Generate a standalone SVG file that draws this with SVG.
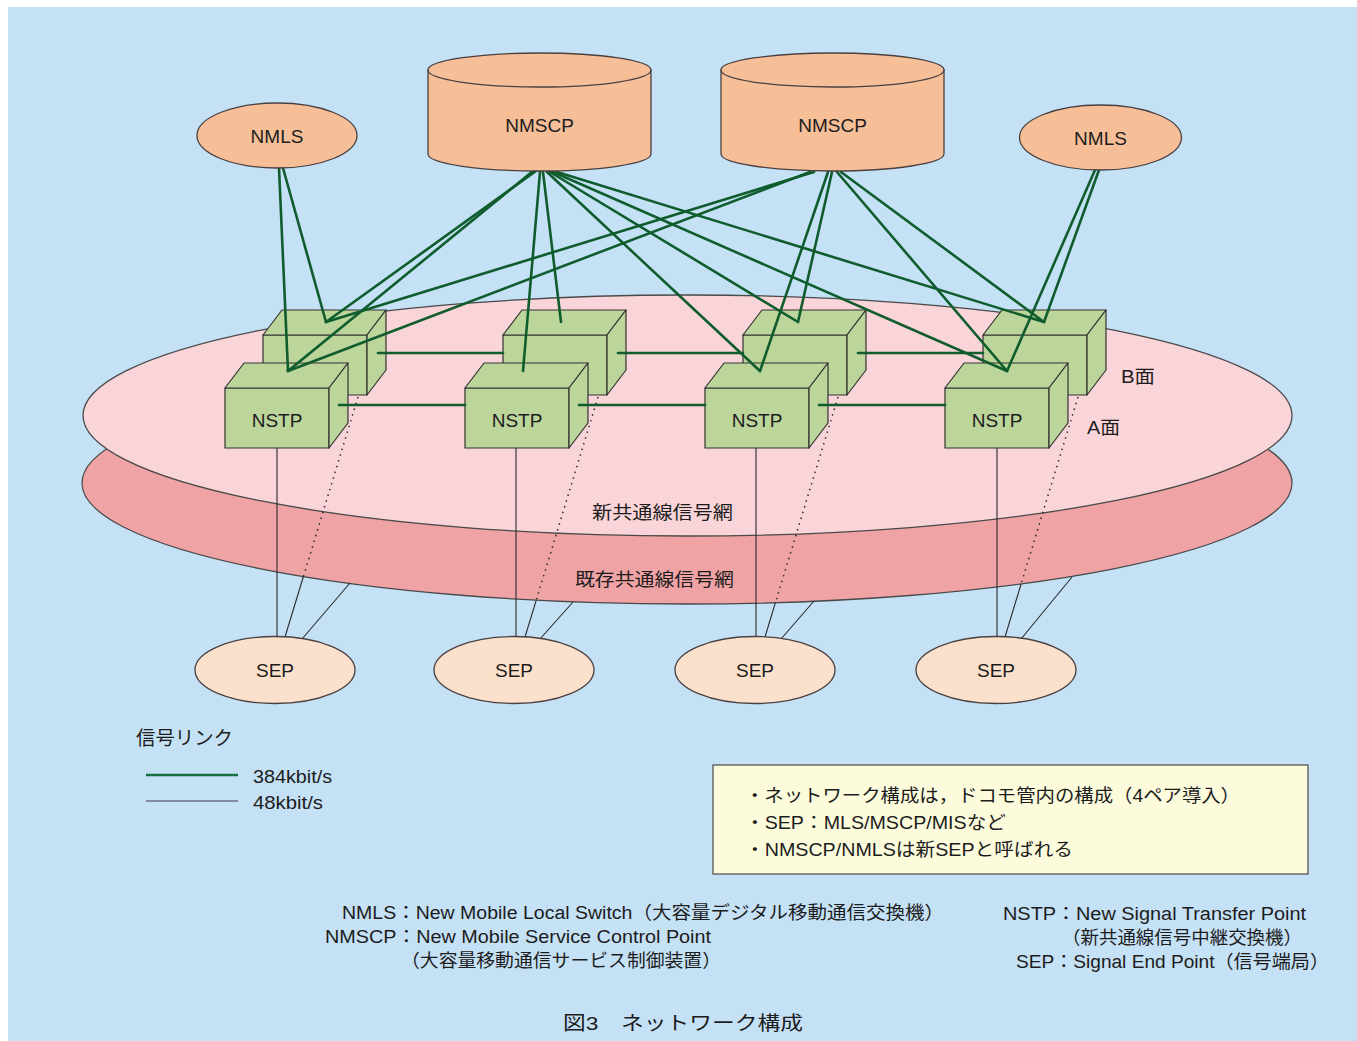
<svg xmlns="http://www.w3.org/2000/svg" width="1357" height="1041" viewBox="0 0 1357 1041">
<style>
text{font-family:"Liberation Sans","Noto Sans CJK JP",sans-serif;fill:#1c1c1c}
.lbl{font-size:19px;text-anchor:middle}
.jp{font-size:18px}
.peach{fill:#F6BF98;stroke:#4a4040;stroke-width:1.3}
.sep{fill:#FBE1CC;stroke:#4a4040;stroke-width:1.3}
.box{fill:#BCD59A;stroke:#333;stroke-width:1.2;stroke-linejoin:round}
.g{stroke:#0F5C2D;stroke-width:2.6;fill:none;stroke-linecap:round}
.k{stroke:#2a2a2a;stroke-width:1.1;fill:none}
.dot{stroke:#2a2a2a;stroke-width:1.5;fill:none;stroke-dasharray:1.5 4.5}
</style>
<defs>
<g id="cube">
<rect class="box" x="0" y="0" width="104" height="60"/>
<polygon class="box" points="0,0 19,-25 123,-25 104,0"/>
<polygon class="box" points="104,0 123,-25 123,35 104,60"/>
</g>
</defs>
<rect x="0" y="0" width="1357" height="1041" fill="#ffffff"/>
<rect x="8" y="7" width="1349" height="1034" fill="#C5E1F6"/>

<g id="net-existing">
<ellipse cx="687" cy="483" rx="605" ry="121" fill="#EFA3A5" stroke="#4a4a4a" stroke-width="1.3"/>
<text x="575" y="586" class="jp" font-size="19" textLength="159" lengthAdjust="spacingAndGlyphs">既存共通線信号網</text>
</g>
<g id="net-new">
<ellipse cx="687.5" cy="415.5" rx="604.5" ry="120.5" fill="#F9D4D8" stroke="#4a4a4a" stroke-width="1.3"/>
<text x="592" y="519" class="jp" font-size="19" textLength="141" lengthAdjust="spacingAndGlyphs">新共通線信号網</text>
<text x="1121" y="383" class="jp" textLength="34" lengthAdjust="spacingAndGlyphs">B面</text>
<text x="1087" y="434" class="jp" textLength="33" lengthAdjust="spacingAndGlyphs">A面</text>
</g>

<g id="connectors-48k">
<line class="k" x1="277" y1="448" x2="277" y2="637"/>
<line class="k" x1="516" y1="448" x2="516" y2="637"/>
<line class="k" x1="756" y1="448" x2="756" y2="637"/>
<line class="k" x1="997" y1="448" x2="997" y2="637"/>
<line class="dot" x1="358" y1="397" x2="303.4" y2="576.5"/>
<line class="k" x1="303.4" y1="576.5" x2="285" y2="637"/>
<line class="dot" x1="598" y1="397" x2="536.2" y2="600.3"/>
<line class="k" x1="536.2" y1="600.3" x2="525" y2="637"/>
<line class="dot" x1="838" y1="397" x2="775.4" y2="602.7"/>
<line class="k" x1="775.4" y1="602.7" x2="765" y2="637"/>
<line class="dot" x1="1078" y1="397" x2="1021.1" y2="584"/>
<line class="k" x1="1021.1" y1="584" x2="1005" y2="637"/>
<line class="k" x1="350" y1="583" x2="302" y2="639"/>
<line class="k" x1="573" y1="602" x2="540" y2="639"/>
<line class="k" x1="814" y1="601" x2="781" y2="639"/>
<line class="k" x1="1072" y1="577" x2="1021" y2="639"/>
</g>

<g id="nstp-b1" transform="translate(263,335)"><use href="#cube"/></g>
<g id="nstp-a1" transform="translate(225,388)"><use href="#cube"/><text class="lbl" x="52" y="39">NSTP</text></g>
<g id="nstp-b2" transform="translate(503,335)"><use href="#cube"/></g>
<g id="nstp-a2" transform="translate(465,388)"><use href="#cube"/><text class="lbl" x="52" y="39">NSTP</text></g>
<g id="nstp-b3" transform="translate(743,335)"><use href="#cube"/></g>
<g id="nstp-a3" transform="translate(705,388)"><use href="#cube"/><text class="lbl" x="52" y="39">NSTP</text></g>
<g id="nstp-b4" transform="translate(983,335)"><use href="#cube"/></g>
<g id="nstp-a4" transform="translate(945,388)"><use href="#cube"/><text class="lbl" x="52" y="39">NSTP</text></g>

<g id="connectors-384k">
<line class="g" x1="339" y1="405" x2="465" y2="405"/>
<line class="g" x1="579" y1="405" x2="705" y2="405"/>
<line class="g" x1="819" y1="405" x2="945" y2="405"/>
<line class="g" x1="378" y1="353" x2="503" y2="353"/>
<line class="g" x1="618" y1="353" x2="743" y2="353"/>
<line class="g" x1="858" y1="353" x2="983" y2="353"/>
<line class="g" x1="279" y1="168" x2="288" y2="371"/>
<line class="g" x1="283" y1="168" x2="326" y2="322"/>
<line class="g" x1="533" y1="171" x2="288" y2="371"/>
<line class="g" x1="536" y1="171" x2="326" y2="322"/>
<line class="g" x1="540" y1="172" x2="523" y2="371"/>
<line class="g" x1="543" y1="172" x2="561" y2="322"/>
<line class="g" x1="547" y1="172" x2="760" y2="371"/>
<line class="g" x1="550" y1="172" x2="798" y2="322"/>
<line class="g" x1="553" y1="172" x2="1007" y2="371"/>
<line class="g" x1="557" y1="172" x2="1044" y2="322"/>
<line class="g" x1="810" y1="172" x2="288" y2="371"/>
<line class="g" x1="814" y1="172" x2="326" y2="322"/>
<line class="g" x1="828" y1="172" x2="760" y2="371"/>
<line class="g" x1="832" y1="172" x2="798" y2="322"/>
<line class="g" x1="837" y1="172" x2="1007" y2="371"/>
<line class="g" x1="841" y1="172" x2="1044" y2="322"/>
<line class="g" x1="1095" y1="170" x2="1007" y2="371"/>
<line class="g" x1="1099" y1="170" x2="1044" y2="322"/>
</g>

<g id="nmls-1"><ellipse class="peach" cx="277" cy="135.5" rx="80" ry="32.5"/><text class="lbl" x="277" y="143">NMLS</text></g>
<g id="nmscp-1">
<path class="peach" d="M428,70 L428,154 A111.5,17 0 0 0 651,154 L651,70 Z"/>
<ellipse class="peach" cx="539.5" cy="70" rx="111.5" ry="17"/>
<text class="lbl" x="539.5" y="132">NMSCP</text>
</g>
<g id="nmscp-2">
<path class="peach" d="M721,70 L721,154 A111.5,17 0 0 0 944,154 L944,70 Z"/>
<ellipse class="peach" cx="832.5" cy="70" rx="111.5" ry="17"/>
<text class="lbl" x="832.5" y="132">NMSCP</text>
</g>
<g id="nmls-2"><ellipse class="peach" cx="1100.5" cy="137.5" rx="81" ry="32.5"/><text class="lbl" x="1100.5" y="145">NMLS</text></g>

<g id="sep-1"><ellipse class="sep" cx="275" cy="670" rx="80" ry="33.5"/><text class="lbl" x="275" y="677">SEP</text></g>
<g id="sep-2"><ellipse class="sep" cx="514" cy="670" rx="80" ry="33.5"/><text class="lbl" x="514" y="677">SEP</text></g>
<g id="sep-3"><ellipse class="sep" cx="755" cy="670" rx="80" ry="33.5"/><text class="lbl" x="755" y="677">SEP</text></g>
<g id="sep-4"><ellipse class="sep" cx="996" cy="670" rx="80" ry="33.5"/><text class="lbl" x="996" y="677">SEP</text></g>

<g id="legend">
<text x="136" y="745" font-size="19" textLength="97" lengthAdjust="spacingAndGlyphs">信号リンク</text>
<line x1="146" y1="775" x2="238" y2="775" stroke="#177040" stroke-width="2.6"/>
<line x1="146" y1="801" x2="238" y2="801" stroke="#6C6C84" stroke-width="1.6"/>
<text x="253" y="783" font-size="19" textLength="79" lengthAdjust="spacingAndGlyphs">384kbit/s</text>
<text x="253" y="809" font-size="19" textLength="70" lengthAdjust="spacingAndGlyphs">48kbit/s</text>
</g>

<g id="note">
<rect x="713" y="765" width="595" height="109" fill="#FCFBDC" stroke="#555" stroke-width="1.3"/>
<text x="745" y="802" class="jp" textLength="495" lengthAdjust="spacingAndGlyphs">・ネットワーク構成は，ドコモ管内の構成（4ペア導入）</text>
<text x="745" y="829" class="jp" textLength="261" lengthAdjust="spacingAndGlyphs">・SEP：MLS/MSCP/MISなど</text>
<text x="745" y="856" class="jp" textLength="328" lengthAdjust="spacingAndGlyphs">・NMSCP/NMLSは新SEPと呼ばれる</text>
</g>

<g id="glossary">
<text x="342" y="919" class="jp" textLength="602" lengthAdjust="spacingAndGlyphs">NMLS：New Mobile Local Switch（大容量デジタル移動通信交換機）</text>
<text x="325" y="943" class="jp" textLength="386" lengthAdjust="spacingAndGlyphs">NMSCP：New Mobile Service Control Point</text>
<text x="401" y="967" class="jp" textLength="320" lengthAdjust="spacingAndGlyphs">（大容量移動通信サービス制御装置）</text>
<text x="1003" y="920" class="jp" textLength="303" lengthAdjust="spacingAndGlyphs">NSTP：New Signal Transfer Point</text>
<text x="1062" y="944" class="jp" textLength="240" lengthAdjust="spacingAndGlyphs">（新共通線信号中継交換機）</text>
<text x="1016" y="968" class="jp" textLength="313" lengthAdjust="spacingAndGlyphs">SEP：Signal End Point（信号端局）</text>
</g>

<text x="563" y="1030" font-size="19" textLength="240" lengthAdjust="spacingAndGlyphs">図3　ネットワーク構成</text>
</svg>
